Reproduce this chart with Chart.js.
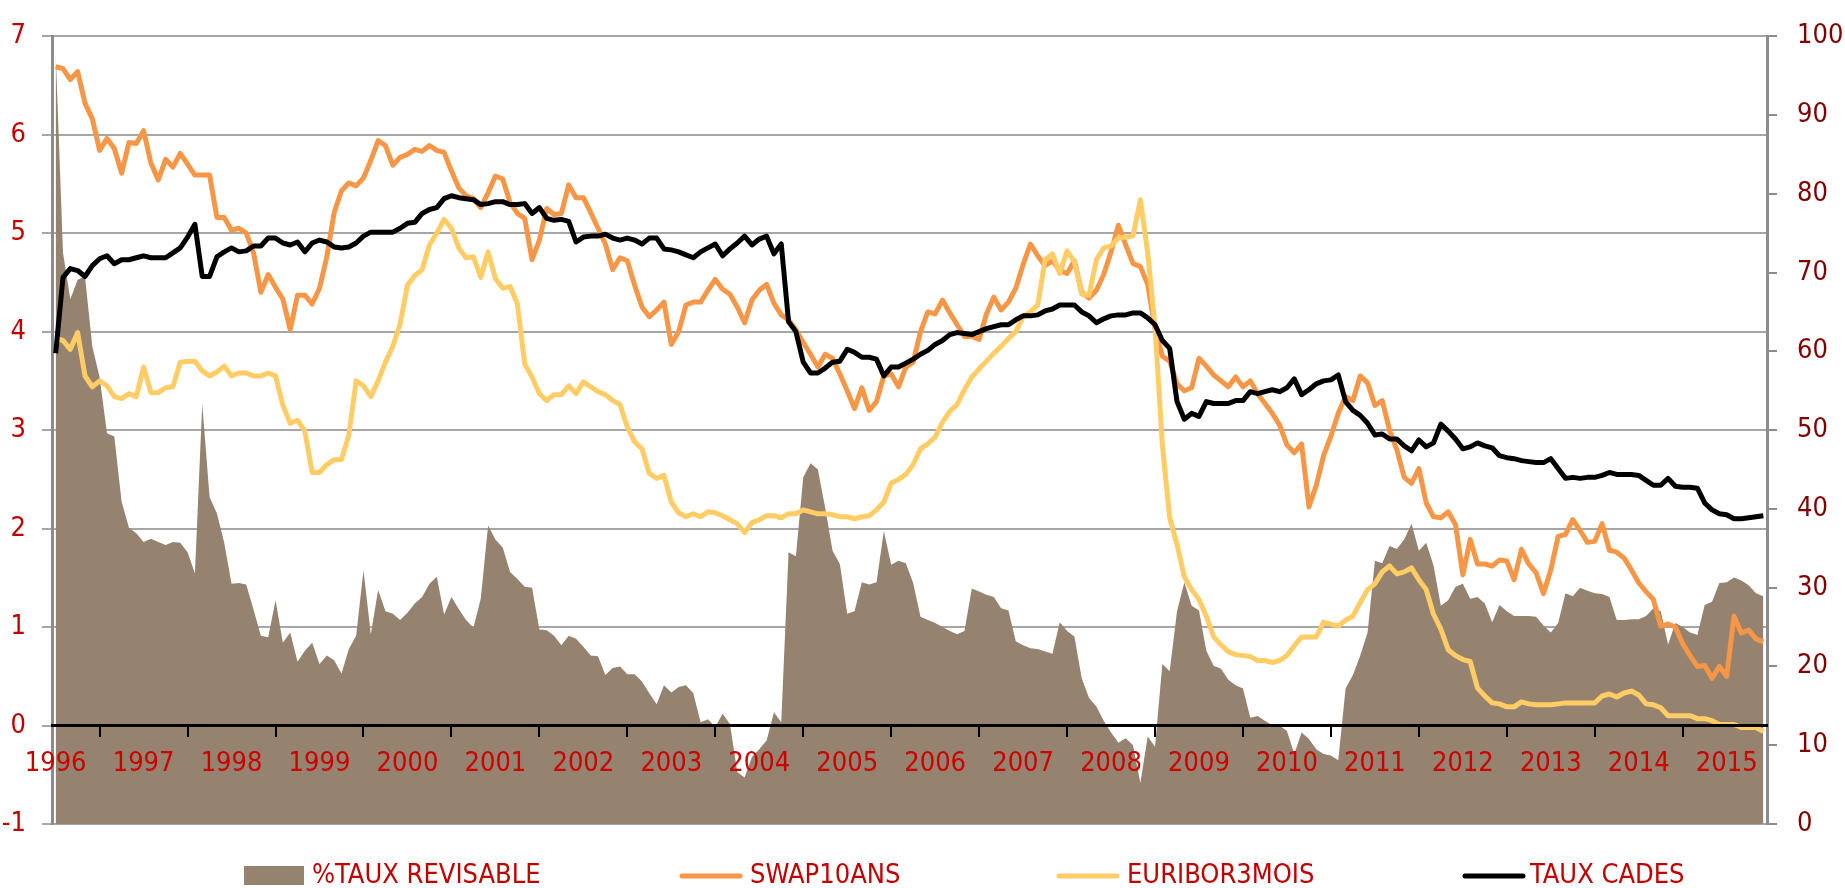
<!DOCTYPE html>
<html>
<head>
<meta charset="utf-8">
<script src="https://cdn.jsdelivr.net/npm/chart.js@4.4.1/dist/chart.umd.min.js"></script>
<style>
  html, body { margin: 0; padding: 0; background: #fff; }
  #wrap { width: 1845px; height: 888px; position: relative; }
</style>
</head>
<body>
<div id="wrap"><canvas id="tauxChart"></canvas></div>
<script>
// années affichées sur l'axe (une valeur par mois, étiquette en janvier)
const years = ['1996', '1997', '1998', '1999', '2000', '2001', '2002', '2003', '2004', '2005',
    '2006', '2007', '2008', '2009', '2010', '2011', '2012', '2013', '2014', '2015'];

// axe de droite (0 - 100)
const tauxRevisable = [
    98, 72.5, 66.6, 69.1, 69.5, 60.6, 56.7, 49.6, 49.2, 40.9, 37.6, 36.9,
    35.8, 36.2, 35.8, 35.4, 35.8, 35.7, 34.5, 31.8, 53.3, 41.5, 39.4, 35.7,
    30.5, 30.6, 30.4, 27.2, 23.9, 23.7, 28.4, 23.0, 24.3, 20.6, 22.0, 23.0,
    20.3, 21.4, 20.8, 19.1, 22.2, 23.9, 32.2, 24.1, 29.7, 27.0, 26.7, 25.9,
    26.8, 28.0, 28.8, 30.5, 31.4, 26.6, 28.8, 27.3, 25.9, 24.9, 28.6, 37.9,
    36.1, 35.1, 32.0, 31.1, 30.1, 30.0, 24.7, 24.6, 23.9, 22.7, 23.9, 23.5,
    22.5, 21.4, 21.3, 18.9, 19.8, 20.0, 19.0, 19.0, 18.1, 16.6, 15.2, 17.6,
    16.7, 17.4, 17.6, 16.6, 12.9, 13.3, 12.3, 14.0, 12.7, 6.6, 5.9, 8.5,
    9.5, 10.6, 14.2, 12.9, 34.5, 34.0, 44.0, 45.8, 45.0, 40.1, 34.7, 33.0,
    26.7, 27.0, 30.7, 30.4, 30.7, 37.2, 32.9, 33.4, 33.1, 30.6, 26.3, 25.9,
    25.5, 25.0, 24.5, 24.1, 24.5, 29.9, 29.5, 29.1, 28.8, 27.4, 27.1, 23.2,
    22.7, 22.3, 22.2, 21.9, 21.6, 25.6, 24.5, 23.8, 18.5, 16.0, 14.9, 13.1,
    11.6, 10.3, 10.9, 10.0, 5.2, 11.1, 9.8, 20.3, 19.4, 27.0, 30.7, 27.7,
    27.1, 22.0, 20.1, 19.7, 18.3, 17.6, 17.2, 13.5, 13.7, 13.1, 12.5, 12.5,
    11.8, 8.9, 11.6, 10.8, 9.5, 8.9, 8.7, 8.1, 17.2, 18.9, 21.4, 24.3,
    33.4, 33.1, 35.3, 34.9, 36.1, 38.1, 34.7, 35.7, 32.8, 27.7, 28.4, 30.1,
    30.5, 28.6, 28.8, 28.0, 25.6, 27.8, 27.0, 26.4, 26.4, 26.4, 26.3, 25.2,
    24.3, 25.5, 29.3, 28.9, 30.0, 29.6, 29.3, 29.2, 28.8, 25.9, 25.9, 26.0,
    26.0, 26.4, 27.4, 27.0, 22.8, 25.5, 25.0, 24.3, 24.0, 27.8, 28.2, 30.6,
    30.7, 31.3, 30.9, 30.3, 29.3, 28.9
];

// axe de gauche (%)
const swap10ans = [
    6.69, 6.67, 6.56, 6.64, 6.32, 6.16, 5.84, 5.96, 5.86, 5.61, 5.92, 5.91,
    6.04, 5.71, 5.54, 5.75, 5.67, 5.81, 5.70, 5.59, 5.59, 5.59, 5.16, 5.16,
    5.03, 5.05, 5.00, 4.80, 4.40, 4.58, 4.45, 4.33, 4.02, 4.37, 4.37, 4.28,
    4.44, 4.76, 5.21, 5.43, 5.51, 5.48, 5.56, 5.74, 5.94, 5.89, 5.69, 5.77,
    5.80, 5.85, 5.83, 5.89, 5.84, 5.82, 5.63, 5.46, 5.38, 5.35, 5.26, 5.41,
    5.58, 5.55, 5.31, 5.20, 5.15, 4.73, 4.93, 5.25, 5.19, 5.20, 5.49, 5.36,
    5.36, 5.21, 5.05, 4.89, 4.63, 4.75, 4.72, 4.47, 4.25, 4.15, 4.22, 4.30,
    3.87, 4.00, 4.27, 4.30, 4.30, 4.42, 4.53, 4.43, 4.38, 4.25, 4.09, 4.32,
    4.42, 4.48, 4.29, 4.17, 4.12, 4.02, 3.89, 3.77, 3.64, 3.77, 3.73, 3.57,
    3.40, 3.22, 3.43, 3.20, 3.29, 3.55, 3.57, 3.44, 3.64, 3.69, 4.00, 4.20,
    4.18, 4.32, 4.19, 4.07, 3.95, 3.95, 3.92, 4.18, 4.35, 4.22, 4.30, 4.44,
    4.68, 4.89, 4.77, 4.67, 4.72, 4.62, 4.59, 4.72, 4.40, 4.34, 4.42, 4.58,
    4.81, 5.08, 4.88, 4.69, 4.66, 4.48, 4.03, 3.75, 3.70, 3.47, 3.40, 3.43,
    3.73, 3.65, 3.56, 3.50, 3.44, 3.54, 3.44, 3.50, 3.37, 3.27, 3.17, 3.05,
    2.85, 2.77, 2.86, 2.22, 2.44, 2.74, 2.94, 3.17, 3.34, 3.30, 3.55, 3.48,
    3.25, 3.30, 3.00, 2.80, 2.52, 2.46, 2.61, 2.26, 2.12, 2.11, 2.17, 2.04,
    1.53, 1.89, 1.64, 1.64, 1.62, 1.68, 1.67, 1.48, 1.79, 1.64, 1.55, 1.34,
    1.58, 1.92, 1.94, 2.09, 1.98, 1.86, 1.87, 2.05, 1.78, 1.76, 1.70, 1.58,
    1.45, 1.36, 1.28, 1.01, 1.03, 1.00, 0.83, 0.71, 0.60, 0.61, 0.48, 0.60,
    0.50, 1.11, 0.94, 0.97, 0.88, 0.85
];

const euribor3mois = [
    3.93, 3.91, 3.82, 3.99, 3.55, 3.44, 3.50, 3.45, 3.34, 3.32, 3.37, 3.34,
    3.64, 3.38, 3.38, 3.43, 3.44, 3.69, 3.70, 3.70, 3.60, 3.55, 3.59, 3.65,
    3.55, 3.58, 3.58, 3.55, 3.55, 3.58, 3.55, 3.25, 3.07, 3.10, 2.99, 2.57,
    2.57, 2.65, 2.70, 2.70, 2.95, 3.50, 3.45, 3.34, 3.50, 3.69, 3.85, 4.08,
    4.47, 4.57, 4.63, 4.88, 5.00, 5.14, 5.05, 4.85, 4.75, 4.76, 4.55, 4.81,
    4.54, 4.44, 4.46, 4.28, 3.67, 3.54, 3.37, 3.30, 3.36, 3.36, 3.45, 3.37,
    3.49, 3.44, 3.39, 3.36, 3.30, 3.26, 3.03, 2.88, 2.81, 2.56, 2.51, 2.54,
    2.27, 2.16, 2.12, 2.15, 2.12, 2.17, 2.16, 2.13, 2.09, 2.05, 1.96, 2.06,
    2.09, 2.13, 2.13, 2.11, 2.15, 2.15, 2.19, 2.17, 2.15, 2.15, 2.14, 2.12,
    2.12, 2.10, 2.12, 2.13, 2.19, 2.27, 2.46, 2.50, 2.55, 2.65, 2.81, 2.86,
    2.93, 3.08, 3.19, 3.26, 3.41, 3.54, 3.62, 3.70, 3.78, 3.85, 3.93, 4.00,
    4.15, 4.20, 4.27, 4.73, 4.79, 4.59, 4.82, 4.71, 4.38, 4.37, 4.73, 4.85,
    4.87, 4.95, 4.96, 4.97, 5.34, 4.80, 4.05, 2.85, 2.11, 1.84, 1.51, 1.38,
    1.28, 1.11, 0.90, 0.82, 0.75, 0.72, 0.71, 0.70, 0.66, 0.66, 0.64, 0.66,
    0.71, 0.81, 0.90, 0.90, 0.90, 1.05, 1.03, 1.01, 1.07, 1.11, 1.25, 1.38,
    1.44, 1.56, 1.62, 1.54, 1.56, 1.60, 1.48, 1.38, 1.13, 0.98, 0.77, 0.71,
    0.67, 0.65, 0.38, 0.30, 0.23, 0.22, 0.19, 0.19, 0.24, 0.22, 0.21, 0.21,
    0.21, 0.22, 0.23, 0.23, 0.23, 0.23, 0.23, 0.30, 0.32, 0.29, 0.33, 0.35,
    0.31, 0.22, 0.21, 0.18, 0.10, 0.10, 0.10, 0.10, 0.07, 0.07, 0.05, 0.01,
    0.01, 0.01, -0.02, -0.02, -0.02, -0.06
];

const tauxCades = [
    3.78, 4.55, 4.64, 4.62, 4.56, 4.67, 4.74, 4.77, 4.69, 4.73, 4.73, 4.75,
    4.77, 4.75, 4.75, 4.75, 4.80, 4.85, 4.96, 5.09, 4.56, 4.56, 4.76, 4.81,
    4.85, 4.81, 4.82, 4.87, 4.87, 4.95, 4.95, 4.90, 4.88, 4.91, 4.81, 4.90,
    4.93, 4.91, 4.86, 4.85, 4.86, 4.90, 4.97, 5.01, 5.01, 5.01, 5.01, 5.05,
    5.10, 5.11, 5.20, 5.24, 5.26, 5.35, 5.38, 5.36, 5.35, 5.34, 5.29, 5.30,
    5.32, 5.32, 5.29, 5.29, 5.30, 5.20, 5.26, 5.15, 5.13, 5.14, 5.12, 4.91,
    4.96, 4.97, 4.97, 4.99, 4.95, 4.93, 4.95, 4.93, 4.89, 4.95, 4.95, 4.84,
    4.83, 4.81, 4.78, 4.75, 4.81, 4.85, 4.89, 4.77, 4.84, 4.90, 4.97, 4.88,
    4.94, 4.97, 4.79, 4.89, 4.10, 4.00, 3.69, 3.58, 3.58, 3.63, 3.69, 3.70,
    3.82, 3.79, 3.74, 3.74, 3.72, 3.55, 3.64, 3.64, 3.68, 3.72, 3.77, 3.81,
    3.87, 3.91, 3.97, 3.99, 3.98, 3.97, 4.00, 4.03, 4.05, 4.07, 4.07, 4.12,
    4.16, 4.16, 4.17, 4.21, 4.23, 4.27, 4.27, 4.27, 4.20, 4.16, 4.09, 4.13,
    4.16, 4.17, 4.17, 4.19, 4.19, 4.14, 4.07, 3.91, 3.83, 3.29, 3.11, 3.17,
    3.14, 3.29, 3.27, 3.27, 3.27, 3.30, 3.30, 3.39, 3.37, 3.39, 3.41, 3.39,
    3.43, 3.52, 3.36, 3.41, 3.47, 3.50, 3.51, 3.56, 3.29, 3.20, 3.15, 3.07,
    2.95, 2.96, 2.91, 2.91, 2.84, 2.79, 2.90, 2.83, 2.87, 3.06, 2.99, 2.91,
    2.81, 2.83, 2.87, 2.84, 2.82, 2.74, 2.72, 2.71, 2.69, 2.68, 2.67, 2.67,
    2.71, 2.61, 2.51, 2.52, 2.51, 2.52, 2.52, 2.54, 2.57, 2.55, 2.55, 2.55,
    2.54, 2.49, 2.44, 2.44, 2.51, 2.43, 2.42, 2.42, 2.41, 2.26, 2.19, 2.15,
    2.14, 2.10, 2.10, 2.11, 2.12, 2.13
];

// une catégorie par mois
const months = [];
for (let i = 0; i < tauxCades.length; i++) {
    months.push(years[Math.floor(i / 12)] + '-' + String(i % 12 + 1).padStart(2, '0'));
}

const fontNarrow = "'Liberation Sans Narrow', 'Arial Narrow', 'Noto Sans ExtraCondensed', 'Noto Sans Condensed', 'DejaVu Sans Condensed', sans-serif";
Chart.defaults.font.family = fontNarrow;
Chart.defaults.font.size = 27;

// légende dessinée sous le graphique
const legendeBas = {
    id: 'legendeBas',
    afterDraw(chart) {
        const ctx = chart.ctx;
        const y = 876;
        const slots = [
            { ds: 0, markX: 244, textX: 312 },
            { ds: 1, markX: 682, textX: 750 },
            { ds: 2, markX: 1059, textX: 1127 },
            { ds: 3, markX: 1465, textX: 1530 }
        ];
        ctx.save();
        ctx.font = '27px ' + fontNarrow;
        ctx.textBaseline = 'middle';
        ctx.textAlign = 'left';
        slots.forEach(s => {
            const d = chart.data.datasets[s.ds];
            if (d.fill) {
                ctx.fillStyle = d.backgroundColor;
                ctx.fillRect(s.markX, y - 10, 60, 19);
            } else {
                ctx.strokeStyle = d.borderColor;
                ctx.lineWidth = 5;
                ctx.lineCap = 'round';
                ctx.beginPath();
                ctx.moveTo(s.markX, y);
                ctx.lineTo(s.markX + 58, y);
                ctx.stroke();
            }
            ctx.fillStyle = '#C00000';
            ctx.fillText(d.label, s.textX, y);
        });
        ctx.restore();
    }
};

const ctx = document.getElementById('tauxChart').getContext('2d');

new Chart(ctx, {
    type: 'line',
    data: {
        labels: months,
        datasets: [{
            label: '%TAUX REVISABLE',
            data: tauxRevisable,
            yAxisID: 'y1',
            fill: 'start',
            backgroundColor: '#958370',
            borderWidth: 0,
            pointRadius: 0,
            order: 4
        }, {
            label: 'SWAP10ANS',
            data: swap10ans,
            yAxisID: 'y',
            fill: false,
            borderColor: '#F79646',
            borderWidth: 5,
            pointRadius: 0,
            borderJoinStyle: 'round',
            order: 3
        }, {
            label: 'EURIBOR3MOIS',
            data: euribor3mois,
            yAxisID: 'y',
            fill: false,
            borderColor: '#FFCC66',
            borderWidth: 5,
            pointRadius: 0,
            borderJoinStyle: 'round',
            order: 2
        }, {
            label: 'TAUX CADES',
            data: tauxCades,
            yAxisID: 'y',
            fill: false,
            borderColor: '#000000',
            borderWidth: 5,
            pointRadius: 0,
            borderJoinStyle: 'round',
            order: 1
        }]
    },
    options: {
        responsive: true,
        maintainAspectRatio: false,
        animation: false,
        devicePixelRatio: 1,
        layout: { padding: { top: 22, bottom: 64, left: 0, right: 0 } },
        plugins: {
            legend: { display: false },
            tooltip: { enabled: false }
        },
        scales: {
            x: {
                type: 'category',
                position: { y: 0 },
                offset: true,
                grid: {
                    drawOnChartArea: false,
                    drawTicks: true,
                    tickLength: 10,
                    color: '#000000',
                    lineWidth: 2,
                    offset: true,
                    z: 1
                },
                border: { color: '#000000', width: 3, z: 1 },
                ticks: {
                    autoSkip: false,
                    maxRotation: 0,
                    color: '#CC0000',
                    padding: 12,
                    z: 1,
                    callback: function (value, index) {
                        return index % 12 === 0 ? months[index].slice(0, 4) : null;
                    }
                }
            },
            y: {
                position: 'left',
                min: -1,
                max: 7,
                ticks: { stepSize: 1, color: '#C00000', padding: 16 },
                grid: { color: '#A6A6A6', lineWidth: 2, tickLength: 10 },
                border: { color: '#8C8C8C', width: 3 },
                afterFit: function (scale) { scale.width = 52; }
            },
            y1: {
                position: 'right',
                min: 0,
                max: 100,
                ticks: { stepSize: 10, color: '#800000', padding: 20 },
                grid: { drawOnChartArea: false, color: '#8C8C8C', lineWidth: 2, tickLength: 10 },
                border: { color: '#8C8C8C', width: 3 },
                afterFit: function (scale) { scale.width = 78; }
            }
        }
    },
    plugins: [legendeBas]
});
</script>
</body>
</html>
